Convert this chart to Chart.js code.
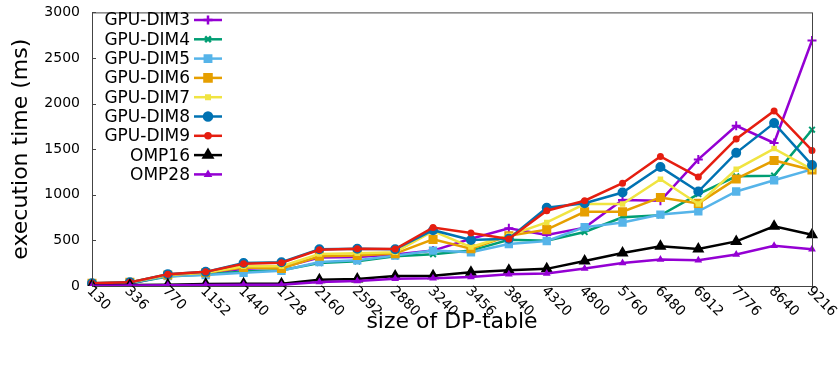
<!DOCTYPE html>
<html>
<head>
<meta charset="utf-8">
<script src="https://cdn.jsdelivr.net/npm/chart.js@4/dist/chart.umd.min.js"></script>
<style>
  html, body { margin: 0; padding: 0; background: #fff; }
  #wrap { width: 840px; height: 365px; }
</style>
</head>
<body>
<div id="wrap"><canvas id="cv"></canvas></div>
<script>
const sizes = ['130', '336', '770', '1152', '1440', '1728', '2160', '2592', '2880', '3240',
  '3456', '3840', '4320', '4800', '5760', '6480', '6912', '7776', '8640', '9216'];

const gpuDim3 = [10, 25, 115, 135, 188, 203, 312, 318, 345, 388, 518, 634, 560, 640, 942, 935, 1388, 1757, 1568, 2692];
const gpuDim4 = [15, 30, 105, 125, 160, 174, 253, 270, 326, 348, 388, 507, 496, 592, 753, 775, 1008, 1203, 1210, 1714];
const gpuDim5 = [20, 35, 110, 120, 145, 167, 262, 282, 333, 388, 370, 460, 493, 645, 696, 783, 819, 1036, 1160, 1279];
const gpuDim6 = [30, 40, 120, 145, 203, 192, 326, 335, 355, 511, 408, 550, 618, 813, 815, 971, 906, 1174, 1377, 1272];
const gpuDim7 = [25, 38, 125, 145, 217, 217, 352, 360, 370, 601, 427, 554, 697, 899, 899, 1170, 899, 1279, 1507, 1279];
const gpuDim8 = [30, 40, 130, 155, 253, 260, 402, 409, 402, 612, 504, 518, 858, 908, 1025, 1304, 1036, 1460, 1786, 1326];
const gpuDim9 = [30, 40, 130, 155, 245, 255, 398, 408, 405, 642, 582, 516, 826, 935, 1127, 1420, 1196, 1612, 1920, 1486];
const omp16 = [5, 10, 15, 22, 25, 25, 68, 76, 110, 112, 150, 174, 188, 275, 362, 435, 406, 489, 655, 562];
const omp28 = [3, 5, 8, 12, 15, 15, 45, 55, 80, 84, 100, 128, 138, 192, 253, 290, 283, 345, 442, 402];

const yTicks = [0, 500, 1000, 1500, 2000, 2500, 3000];

const FONT = 'DejaVu Sans, Verdana, sans-serif';

// gnuplot-ish default palette and point types
const series = [
  {label: 'GPU-DIM3', data: gpuDim3, color: '#9400D3', pointStyle: 'cross', r: 4.5},
  {label: 'GPU-DIM4', data: gpuDim4, color: '#009E73', pointStyle: 'crossRot', r: 4},
  {label: 'GPU-DIM5', data: gpuDim5, color: '#56B4E9', pointStyle: 'rect', r: 4.5},
  {label: 'GPU-DIM6', data: gpuDim6, color: '#E69F00', pointStyle: 'rect', r: 5},
  {label: 'GPU-DIM7', data: gpuDim7, color: '#F0E442', pointStyle: 'rect', r: 2.5},
  {label: 'GPU-DIM8', data: gpuDim8, color: '#0072B2', pointStyle: 'circle', r: 4},
  {label: 'GPU-DIM9', data: gpuDim9, color: '#E51E10', pointStyle: 'circle', r: 2.5},
  {label: 'OMP16', data: omp16, color: '#000000', pointStyle: 'triangle', r: 5},
  {label: 'OMP28', data: omp28, color: '#9400D3', pointStyle: 'triangle', r: 2.5},
];

// frame, inward y ticks, slanted x labels and the key
const decorations = {
  id: 'decorations',
  afterDatasetsDraw(chart) {
    const {ctx, chartArea: a, scales: {x, y}} = chart;
    ctx.save();
    ctx.strokeStyle = '#444';
    ctx.lineWidth = 1;
    ctx.strokeRect(a.left + 0.5, a.top + 0.5, a.right - a.left, a.bottom - a.top);

    ctx.beginPath();
    yTicks.forEach(v => {
      const py = Math.round(y.getPixelForValue(v)) + 0.5;
      ctx.moveTo(a.left, py); ctx.lineTo(a.left + 4, py);
    });
    ctx.stroke();

    ctx.fillStyle = '#000';
    ctx.font = '14px ' + FONT;
    ctx.textAlign = 'left';
    ctx.textBaseline = 'middle';
    sizes.forEach((s, i) => {
      const px = x.getPixelForValue(i);
      ctx.save();
      ctx.translate(px - 3, a.bottom + 3);
      ctx.rotate(Math.PI / 4);
      ctx.fillText(s, 0, 0);
      ctx.restore();
    });

    // key: right-aligned text followed by a line sample with its marker
    ctx.font = '17px ' + FONT;
    ctx.textAlign = 'right';
    chart.data.datasets.forEach((ds, k) => {
      const ky = 20 + k * 19.3;
      ctx.fillStyle = '#000';
      ctx.fillText(ds.label, 190, ky + 1);
      ctx.strokeStyle = ds.borderColor;
      ctx.lineWidth = 2.5;
      ctx.beginPath();
      ctx.moveTo(194, ky); ctx.lineTo(222, ky);
      ctx.stroke();
      Chart.helpers.drawPoint(ctx, {
        pointStyle: ds.pointStyle, radius: ds.pointRadius, rotation: 0, borderWidth: 2
      }, 208, ky);
      ctx.fillStyle = ds.borderColor;
      ctx.fill();
    });
    ctx.restore();
  }
};

new Chart(document.getElementById('cv'), {
  type: 'line',
  data: {
    labels: sizes,
    datasets: series.map((s, k) => ({
      label: s.label,
      data: s.data,
      borderColor: s.color,
      backgroundColor: s.color,
      pointBackgroundColor: s.color,
      pointBorderColor: s.color,
      pointStyle: s.pointStyle,
      pointRadius: s.r,
      pointBorderWidth: 2,
      borderWidth: 2.5,
      lineTension: 0,
      fill: false,
      order: series.length - k,
    }))
  },
  options: {
    responsive: true,
    maintainAspectRatio: false,
    animation: false,
    devicePixelRatio: 1,
    layout: {padding: {top: 10, right: 28, left: 0, bottom: 0}},
    plugins: {legend: {display: false}, tooltip: {enabled: false}},
    scales: {
      x: {
        type: 'category',
        offset: false,
        grid: {display: false},
        border: {display: false},
        ticks: {display: false},
        title: {
          display: true,
          text: 'size of DP-table',
          color: '#000',
          font: {family: FONT, size: 22},
          padding: {top: 0, bottom: 30}
        },
        afterFit: scale => { scale.height = 79; }
      },
      y: {
        min: 0,
        max: 3000,
        grid: {display: false},
        border: {display: false},
        ticks: {
          stepSize: 500,
          color: '#000',
          padding: 4,
          font: {family: FONT, size: 14},
          callback: v => String(v)
        },
        title: {
          display: true,
          text: 'execution time (ms)',
          color: '#000',
          font: {family: FONT, size: 22},
          padding: {top: 8, bottom: 0}
        },
        afterFit: scale => { scale.width = 92; }
      }
    }
  },
  plugins: [decorations]
});
</script>
</body>
</html>
